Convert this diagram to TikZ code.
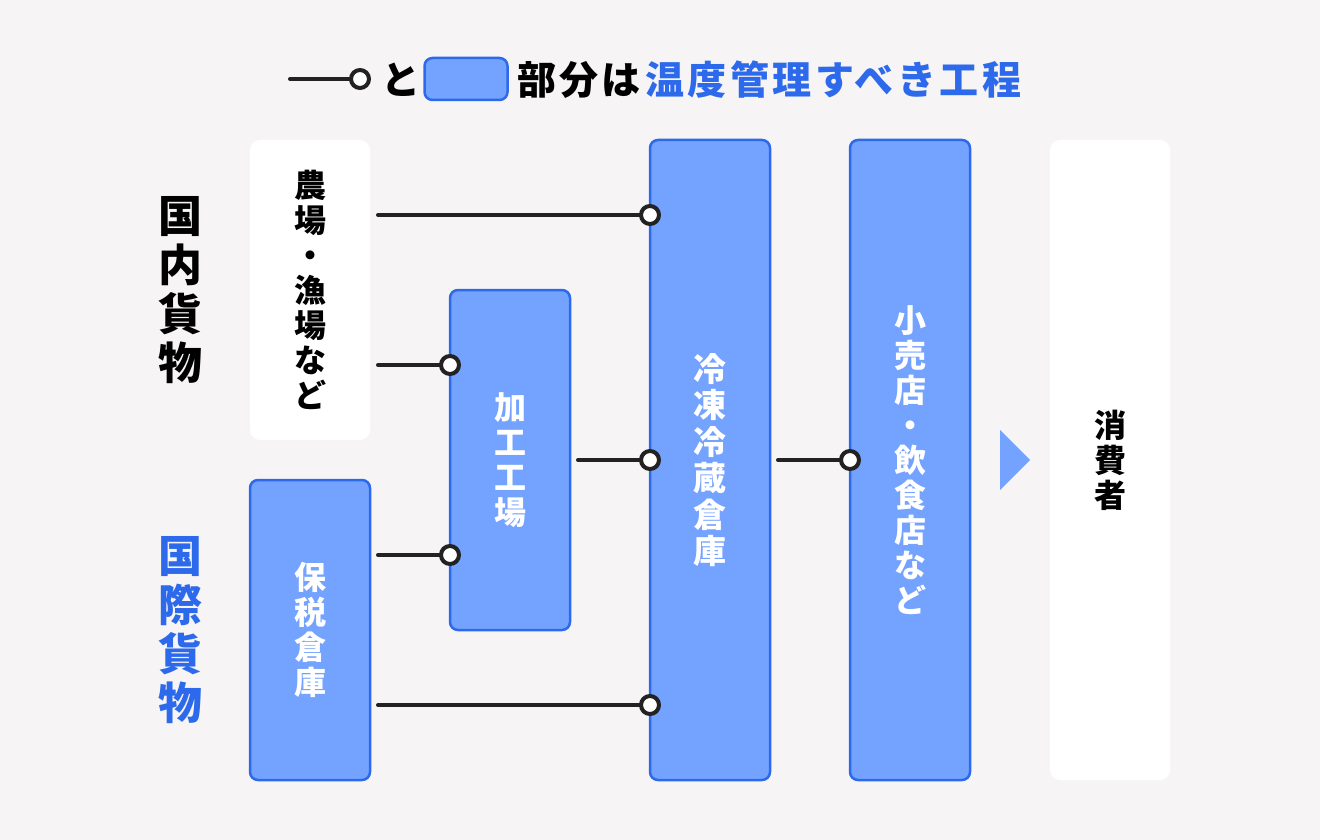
\documentclass[tikz,border=0pt]{standalone}
\usepackage{fontspec}
\setmainfont{Noto Sans CJK JP}
\definecolor{fillblue}{HTML}{74A3FF}
\definecolor{tempblue}{HTML}{2D6AEB}
\definecolor{wireblack}{HTML}{222222}
\definecolor{paper}{HTML}{F6F4F5}
\begin{document}
\begin{tikzpicture}[x=1pt,y=-1pt,inner sep=0pt,outer sep=0pt,
box/.style={draw=tempblue,fill=fillblue,rounded corners=8pt,line width=2.5pt,minimum width=120pt,text=white},
whitebox/.style={fill=white,rounded corners=10pt,minimum width=120pt},
vtext/.style={align=center,font=\bfseries\fontsize{32}{35}\selectfont},
cargo/.style={align=center,font=\bfseries\fontsize{44}{49}\selectfont},
legendfont/.style={font=\bfseries\fontsize{39}{39}\selectfont\addfontfeature{LetterSpace=9}},
wire/.style={line width=4pt,draw=wireblack,line cap=round},
port/.style={circle,draw=wireblack,fill=white,line width=4pt,minimum size=18pt}]
\fill[paper] (0,0) rectangle (1320,840);
% legend
\draw (360,79) node[port] (lgport) {};
\draw (290,79) coordinate (lgstart);
\draw[wire] (lgstart) -- (lgport.west);
\draw (401,80) node[legendfont] (lgand) {と};
\draw (466,79) node[box,minimum width=83pt,minimum height=42pt] (lgbox) {};
\draw (517,80) node[anchor=west,legendfont] (lgtext) {部分は\hspace{4pt}\textcolor{tempblue}{温度管理すべき工程}};
% cargo labels
\draw (180,290) node[cargo] (domestic) {国\\内\\貨\\物};
\draw (180,630) node[cargo,text=tempblue] (intl) {国\\際\\貨\\物};
% stages
\draw (310,290) node[whitebox,minimum height=300pt] (farm) {};
\draw (farm) node[vtext] {農\\場\\・\\漁\\場\\な\\ど};
\draw (310,630) node[box,minimum height=300pt] (bonded) {};
\draw (bonded) node[vtext,text=white] {保\\税\\倉\\庫};
\draw (510,460) node[box,minimum height=340pt] (factory) {};
\draw (factory) node[vtext,text=white] {加\\工\\工\\場};
\draw (710,460) node[box,minimum height=640pt] (cold) {};
\draw (cold) node[vtext,text=white,font=\bfseries\fontsize{33}{36.5}\selectfont] {冷\\凍\\冷\\蔵\\倉\\庫};
\draw (910,460) node[box,minimum height=640pt] (retail) {};
\draw (retail) node[vtext,text=white] {小\\売\\店\\・\\飲\\食\\店\\な\\ど};
\draw (1110,460) node[whitebox,minimum height=640pt] (consumer) {};
\draw (consumer) node[vtext] {消\\費\\者};
\fill[fillblue] (1000,430) -- (1030,460) -- (1000,490) -- cycle;
% ports
\draw (cold.west |- 0,215) node[port] (c1) {};
\draw (factory.west |- 0,365) node[port] (f1) {};
\draw (cold.west |- 0,460) node[port] (c2) {};
\draw (factory.west |- 0,555) node[port] (f2) {};
\draw (cold.west |- 0,705) node[port] (c3) {};
\draw (retail.west |- 0,460) node[port] (r1) {};
% wires
\draw ([xshift=8pt]farm.east |- c1) coordinate (s1);
\draw ([xshift=8pt]farm.east |- f1) coordinate (s2);
\draw ([xshift=8pt]factory.east |- c2) coordinate (s3);
\draw ([xshift=8pt]bonded.east |- f2) coordinate (s4);
\draw ([xshift=8pt]bonded.east |- c3) coordinate (s5);
\draw ([xshift=8pt]cold.east |- r1) coordinate (s6);
\draw[wire] (s1) -- (c1.west);
\draw[wire] (s2) -- (f1.west);
\draw[wire] (s3) -- (c2.west);
\draw[wire] (s4) -- (f2.west);
\draw[wire] (s5) -- (c3.west);
\draw[wire] (s6) -- (r1.west);
\end{tikzpicture}
\end{document}
